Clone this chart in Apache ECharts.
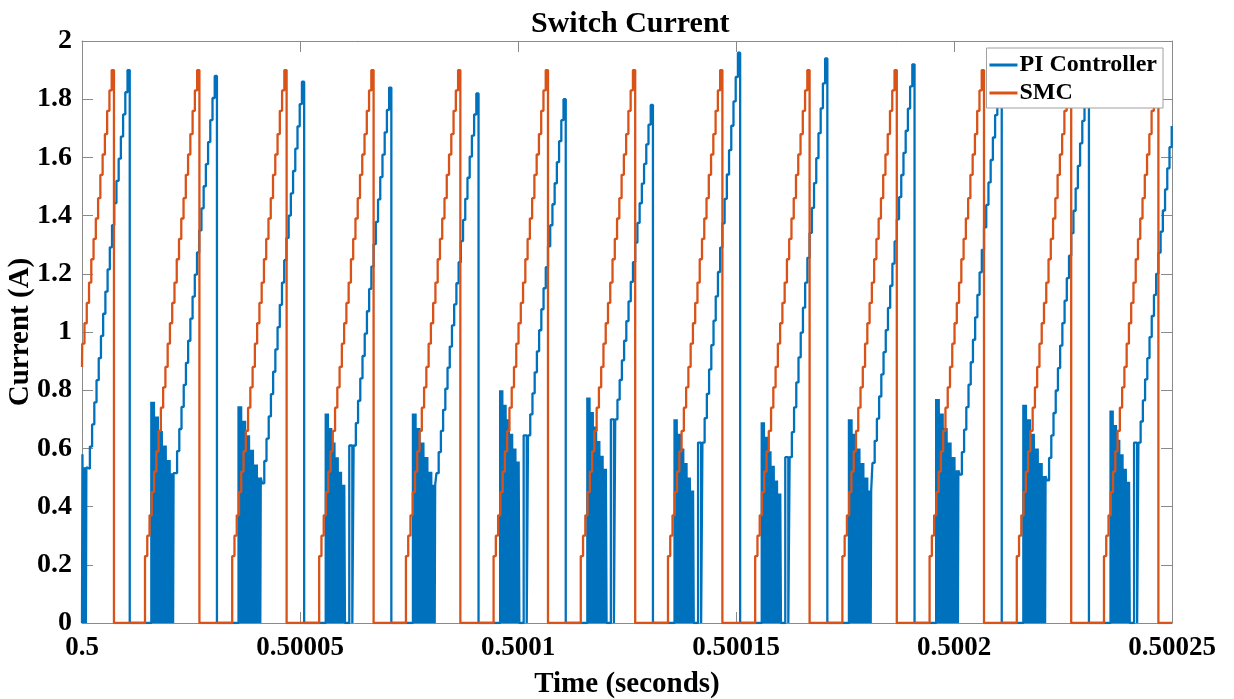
<!DOCTYPE html>
<html>
<head>
<meta charset="utf-8">
<title>Switch Current</title>
<script src="https://cdn.jsdelivr.net/npm/echarts@6/dist/echarts.min.js"></script>
<style>
  html, body { margin: 0; padding: 0; background: #fff; }
  #chart { width: 1234px; height: 699px; }
</style>
</head>
<body>
<div id="chart"></div>
<script>
// time axis in microseconds after 0.5 s
var xTickLabels = ['0.5', '0.50005', '0.5001', '0.50015', '0.5002', '0.50025'];
var yTickLabels = ['0', '0.2', '0.4', '0.6', '0.8', '1', '1.2', '1.4', '1.6', '1.8', '2'];
var seriesNames = ['PI Controller', 'SMC'];

// SMC: staircase levels of one ramp (A), and time each ramp starts (us)
var smcLevels = [0.23, 0.30, 0.37, 0.45, 0.52, 0.59, 0.66, 0.74, 0.81, 0.88, 0.96, 1.03,
  1.10, 1.17, 1.25, 1.32, 1.39, 1.46, 1.54, 1.61, 1.68, 1.76, 1.83, 1.90];
var smcRiseTimes = [-5.15, 14.45, 34.45, 54.4, 74.3, 94.4, 114.4, 134.4, 154.4, 174.4, 194.4, 214.4, 234.4];
var smcStepUs = 0.52;

// PI controller, one entry per switching period (first and last are partial)
var piEnvTop = [0.78, 0.76, 0.745, 0.72, 0.72, 0.80, 0.775, 0.70, 0.69, 0.70, 0.77, 0.75, 0.73]; // top of chopped part
var piEnvDrop = [0, 0.05, 0.10, 0.15, 0.20, 0.245];   // envelope steps down
var piExtraPulse = [0, 0, 0, 1, 0, 1, 1, 1, 1, 0, 0, 0, 1];
var piRampStart = [0.53, 0.515, 0.48, 0.61, 0.515, 0.645, 0.70, 0.62, 0.57, 0.55, 0.51, 0.49, 0.62];
var piPeak = [1.90, 1.88, 1.86, 1.84, 1.82, 1.80, 1.78, 1.96, 1.94, 1.92, 1.90, 1.88, 1.78];
var piPeriodUs = 20;
var piDropUs = 10.95;   // peak / turn-off instant inside the period
var piChopStartUs = -4.1;
var piStepUs = 0.5;

function buildSmc() {
  var d = [];
  smcRiseTimes.forEach(function (t0) {
    for (var i = 0; i < smcLevels.length; i++) {
      d.push([t0 + i * smcStepUs, smcLevels[i]]);
    }
    d.push([t0 + smcLevels.length * smcStepUs, 0]);
  });
  return d;
}

function buildPi() {
  var d = [];
  for (var k = 0; k < piPeak.length; k++) {
    var b = k * piPeriodUs;
    var extra = piExtraPulse[k] === 1;
    var cs = b + piChopStartUs;
    var ce = b + (extra ? 0.4 : 1.3);
    var seg = (ce - cs) / piEnvDrop.length;
    // chopped part: fast on/off under a falling envelope
    for (var j = 0; j < piEnvDrop.length; j++) {
      var lvl = piEnvTop[k] - piEnvDrop[j];
      var n = Math.max(1, Math.round(seg / 0.3));
      var p = seg / n;
      for (var m = 0; m < n; m++) {
        var t = cs + j * seg + m * p;
        d.push([t, lvl]);
        if (!(j === piEnvDrop.length - 1 && m === n - 1 && !extra)) d.push([t + p * 0.65, 0]);
      }
    }
    var rs = b + 1.3;
    if (extra) {
      d.push([b + 1.3, piRampStart[k]]);
      d.push([b + 2.0, 0]);
      rs = b + 2.3;
    }
    var drop = b + piDropUs;
    var nl = Math.floor((drop - rs) / piStepUs);
    var dt = (drop - rs) / nl;
    for (var i = 0; i < nl; i++) {
      d.push([rs + i * dt, piRampStart[k] + (piPeak[k] - piRampStart[k]) * i / (nl - 1)]);
    }
    d.push([drop, 0]);
  }
  return d;
}

function clip(pts, lo, hi) {
  var out = [];
  var before = 0;
  for (var i = 0; i < pts.length; i++) {
    var p = pts[i];
    if (p[0] <= lo) { before = p[1]; continue; }
    if (!out.length) out.push([lo, before]);
    if (p[0] >= hi) break;
    out.push(p);
  }
  out.push([hi, out[out.length - 1][1]]);
  return out;
}

// sample-and-hold: add the corner point before every change
function toSteps(pts) {
  var out = [];
  for (var i = 0; i < pts.length; i++) {
    if (i > 0) out.push([pts[i][0], pts[i - 1][1]]);
    out.push(pts[i]);
  }
  return out;
}

var piData = toSteps(clip(buildPi(), 0, 250));
var smcData = toSteps(clip(buildSmc(), 0, 250));

var chart = echarts.init(document.getElementById('chart'));
var font = '"Liberation Serif", "Times New Roman", serif';
var axisCol = '#8a8a8a';

var option = {
  animation: false,
  backgroundColor: '#fff',
  title: {
    text: 'Switch Current',
    left: 526,
    top: 4,
    textStyle: { fontFamily: font, fontWeight: 'bold', fontSize: 30, color: '#000' }
  },
  legend: {
    data: seriesNames,
    orient: 'vertical',
    right: 71,
    top: 48,
    itemWidth: 28,
    itemHeight: 3,
    itemGap: 4,
    icon: 'rect',
    padding: [5, 6, 3, 3],
    backgroundColor: '#fff',
    borderColor: '#a0a0a0',
    borderWidth: 1,
    borderRadius: 0,
    textStyle: { fontFamily: font, fontWeight: 'bold', fontSize: 24, color: '#000', padding: [0, 0, 0, -3] }
  },
  grid: { left: 82, right: 62, top: 41, bottom: 76, outerBoundsMode: 'none' },
  xAxis: [{
    type: 'value',
    min: 0,
    max: 250,
    interval: 50,
    name: 'Time (seconds)',
    nameLocation: 'middle',
    nameGap: 47,
    nameMoveOverlap: false,
    nameTextStyle: { fontFamily: font, fontWeight: 'bold', fontSize: 29, color: '#000' },
    axisLine: { onZero: false, lineStyle: { color: axisCol } },
    axisTick: { inside: true, length: 11, lineStyle: { color: axisCol } },
    axisLabel: {
      margin: 12, fontFamily: font, fontWeight: 'bold', fontSize: 27, color: '#000',
      formatter: function (v) { return xTickLabels[Math.round(v / 50)]; }
    },
    splitLine: { show: false }
  }, {
    type: 'value', position: 'top', min: 0, max: 250, interval: 50,
    axisLine: { onZero: false, lineStyle: { color: axisCol } },
    axisTick: { inside: true, length: 11, lineStyle: { color: axisCol } },
    axisLabel: { show: false },
    splitLine: { show: false }
  }],
  yAxis: [{
    type: 'value',
    min: 0,
    max: 2,
    interval: 0.2,
    name: 'Current (A)',
    nameLocation: 'middle',
    nameGap: 47,
    nameMoveOverlap: false,
    nameTextStyle: { fontFamily: font, fontWeight: 'bold', fontSize: 29, color: '#000' },
    axisLine: { show: true, onZero: false, lineStyle: { color: axisCol } },
    axisTick: { show: true, inside: true, length: 11, lineStyle: { color: axisCol } },
    axisLabel: {
      margin: 10, fontFamily: font, fontWeight: 'bold', fontSize: 28, color: '#000',
      formatter: function (v) { return yTickLabels[Math.round(v / 0.2)]; }
    },
    splitLine: { show: false }
  }, {
    type: 'value', position: 'right', min: 0, max: 2, interval: 0.2,
    axisLine: { show: true, onZero: false, lineStyle: { color: axisCol } },
    axisTick: { show: true, inside: true, length: 11, lineStyle: { color: axisCol } },
    axisLabel: { show: false },
    splitLine: { show: false }
  }],
  series: [{
    name: seriesNames[0],
    type: 'line',
    data: piData,
    showSymbol: false,
    symbol: 'none',
    lineStyle: { color: '#0072BD', width: 2.3 },
    itemStyle: { color: '#0072BD' }
  }, {
    name: seriesNames[1],
    type: 'line',
    data: smcData,
    showSymbol: false,
    symbol: 'none',
    lineStyle: { color: '#D95319', width: 2.3 },
    itemStyle: { color: '#D95319' }
  }]
};

chart.setOption(option);
</script>
</body>
</html>
